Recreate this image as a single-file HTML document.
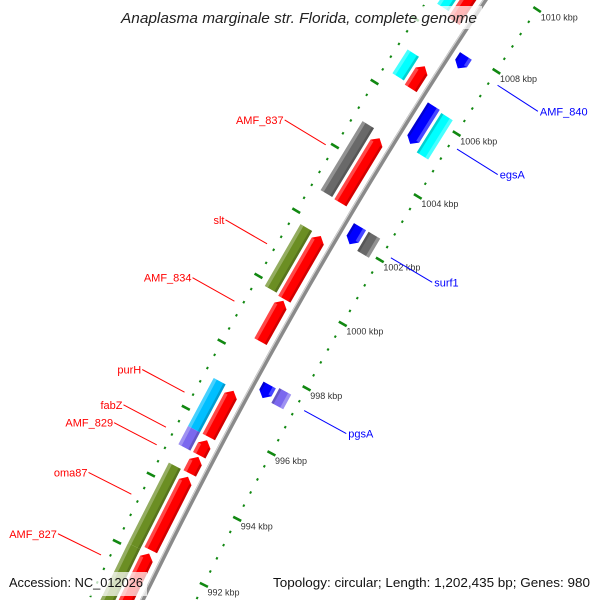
<!DOCTYPE html>
<html><head><meta charset="utf-8"><style>
html,body{margin:0;padding:0;background:#fff;width:600px;height:600px;overflow:hidden;}
svg{display:block;font-family:"Liberation Sans",sans-serif;overflow:hidden;}
</style></head><body>
<svg id="map" width="600" height="600" viewBox="0 0 600 600" xmlns="http://www.w3.org/2000/svg">
<defs><clipPath id="frame"><rect x="0" y="0" width="600" height="600"/></clipPath></defs>
<g clip-path="url(#frame)">
<rect x="0" y="0" width="600" height="600" fill="#fff"/>
<g id="ticks"></g>
<g id="backbone"></g>
<g id="features"></g>
<g id="labels"></g>
<g>
<rect x="116" y="6" width="366" height="23" fill="#fff" fill-opacity="0.72"/>
<text x="299" y="23" text-anchor="middle" font-size="14.5" font-style="italic" fill="#222" textLength="356" lengthAdjust="spacingAndGlyphs">Anaplasma marginale str. Florida, complete genome</text>
</g>
<g>
<rect x="4" y="572" width="143" height="24" fill="#fff" fill-opacity="0.72"/>
<text x="9" y="587" font-size="13" fill="#111" textLength="134" lengthAdjust="spacingAndGlyphs">Accession: NC_012026</text>
<rect x="268" y="572" width="328" height="24" fill="#fff" fill-opacity="0.72"/>
<text x="273" y="587" font-size="13" fill="#111" textLength="317" lengthAdjust="spacingAndGlyphs">Topology: circular; Length: 1,202,435 bp; Genes: 980</text>
</g>
</g>
</svg>
<script>
// feature data (kbp)
const featStart  = [1008.5,1006.37,1002.78,999.8,998.5,995.6,995.05,994.5,992.2,990.0, 1008.65,1006.45,1002.8,999.85,995.6,995.05,992.1,989.8, 1007.5,1005.1,1001.95,997.2,989.9, 1005.0,1001.9,997.2];
const featEnd    = [1010.6,1007.07,1004.8,1001.75,999.75,997.0,995.5,995.0,994.4,992.1, 1010.6,1007.2,1004.95,1001.75,997.05,995.6,994.5,992.1, 1007.9,1006.3,1002.5,997.6,990.6, 1006.25,1002.5,997.65];
const featStrand = [1,1,1,1,1,1,1,1,1,1, 1,1,1,1,1,1,1,1, -1,-1,-1,-1,-1, -1,-1,-1];
const featRing   = [1,1,1,1,1,1,1,1,1,1, 2,2,2,2,2,2,2,2, 1,1,1,1,1, 2,2,2];
const featColor  = ["#ff0000","#ff0000","#ff0000","#ff0000","#ff0000","#ff0000","#ff0000","#ff0000","#ff0000","#ff0000",
  "#00ffff","#00ffff","#696969","#6b8e23","#00bfff","#7b68ee","#6b8e23","#6b8e23",
  "#0000ff","#0000ff","#0000ff","#0000ff","#0000ff","#00ffff","#696969","#7b68ee"];
const labelNames  = ["AMF_837","slt","AMF_834","purH","fabZ","AMF_829","oma87","AMF_827","AMF_840","egsA","surf1","pgsA"];
const labelPos    = [1003.9,1000.85,999.1,996.35,995.3,994.77,993.3,991.5,1007.7,1005.65,1002.2,997.44];
const labelStrand = [1,1,1,1,1,1,1,1,-1,-1,-1,-1];
const tickStartKbp = 989.6, tickEndKbp = 1011.2, minorStep = 0.4, majorStep = 2;

const NS="http://www.w3.org/2000/svg";
const CX=4798, CY=2862, R0=5176;
function pt(p,r){const t=(-150.33+(p-1000)*0.413)*Math.PI/180;const R=R0+r;return [CX+R*Math.cos(t),CY+R*Math.sin(t)];}
function mk(tag,attrs,parent){const e=document.createElementNS(NS,tag);for(const k in attrs)e.setAttribute(k,attrs[k]);parent.appendChild(e);return e;}
function poly(pts){return pts.map(q=>q[0].toFixed(2)+","+q[1].toFixed(2)).join(" ");}

// backbone
const bb=document.getElementById("backbone");
let d1=[],d2=[];
for(let p=989;p<=1011.01;p+=0.25){d1.push(pt(p,0));d2.push(pt(p,1.6));}
const b1=mk("polyline",{points:poly(d1),fill:"none",stroke:"#8a8a8a","stroke-width":4.6},bb);


const b2=mk("polyline",{points:poly(d2),fill:"none",stroke:"#d4d4d4","stroke-width":1.1},bb);



// ticks
const tg=document.getElementById("ticks");
const nT=Math.round((tickEndKbp-tickStartKbp)/minorStep);
for(let i=0;i<=nT;i++){
  const p=Math.round((tickStartKbp+i*minorStep)*10)/10;
  const major=Math.abs(p/majorStep-Math.round(p/majorStep))<1e-6;
  [1,-1].forEach(s=>{
    const a=major?pt(p,s*44):pt(p,s*47.3), b=major?pt(p,s*53):pt(p,s*49.3);
    const l=mk("line",{x1:a[0],y1:a[1],x2:b[0],y2:b[1],stroke:"#118811","stroke-width":major?2.6:2.4},tg);
    
    
  });
  if(major){
    const q=pt(p,-48);
    const t=mk("text",{x:q[0]+4,y:q[1]+11,"font-size":9,fill:"#333"},tg);
    t.textContent=p+" kbp";
    
    
  }
}

// features
const fg=document.getElementById("features");
for(let i=0;i<featStart.length;i++){
  const s=featStrand[i], ring=featRing[i];
  const ra=s*(ring===1?7.5:24.5), rb=s*(ring===1?21.5:38);
  const p1=featStart[i], p2=featEnd[i];
  const arrow=(featColor[i]==="#ff0000"||featColor[i]==="#0000ff");
  const h=Math.min(0.16,(p2-p1)*0.4);
  let shape, bodyA=p1, bodyB=p2;
  const rm=(ra+rb)/2;
  if(arrow&&s===1){bodyB=p2-h;shape=[pt(p1,ra),pt(p1,rb),pt(bodyB,rb),pt(p2,rm),pt(bodyB,ra)];}
  else if(arrow){bodyA=p1+h;shape=[pt(p2,ra),pt(p2,rb),pt(bodyA,rb),pt(p1,rm),pt(bodyA,ra)];}
  else shape=[pt(p1,ra),pt(p1,rb),pt(p2,rb),pt(p2,ra)];
  const g=mk("g",{},fg);
  
  
  mk("polygon",{points:poly(shape),fill:featColor[i]},g);
  const ro=rb, ri=rb-s*3.5;
  mk("polygon",{points:poly([pt(bodyA,ri),pt(bodyA,ro),pt(bodyB,ro),pt(bodyB,ri)]),fill:"#fff","fill-opacity":0.28},g);
  const rd=ra, rd2=ra+s*2.5;
  mk("polygon",{points:poly([pt(bodyA,rd),pt(bodyA,rd2),pt(bodyB,rd2),pt(bodyB,rd)]),fill:"#000","fill-opacity":0.18},g);
}

// labels
const lg=document.getElementById("labels");
for(let i=0;i<labelNames.length;i++){
  const s=labelStrand[i], col=s===1?"#ff0000":"#0000ff";
  const a=pt(labelPos[i],s*57), b=pt(labelPos[i],s*105);
  const l=mk("line",{x1:a[0],y1:a[1],x2:b[0],y2:b[1],stroke:col,"stroke-width":1},lg);
  
  
  const t=mk("text",{x:s===1?b[0]-1:b[0]+2,y:b[1]+4,"font-size":11,fill:col,"text-anchor":s===1?"end":"start"},lg);
  t.textContent=labelNames[i];
  
  
}
</script>
</body></html>
